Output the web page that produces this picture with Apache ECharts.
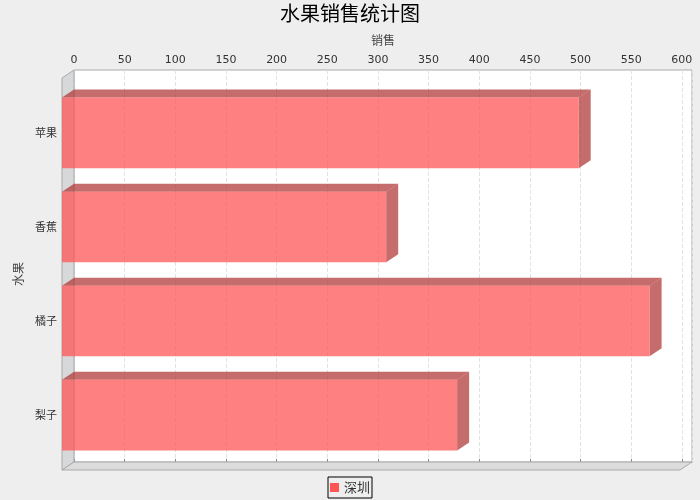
<!DOCTYPE html>
<html>
<head>
<meta charset="utf-8">
<script src="https://cdn.jsdelivr.net/npm/echarts@6/dist/echarts.min.js"></script>
<style>
  html, body { margin: 0; padding: 0; background: #eeeeee; }
  #main { width: 700px; height: 500px; }
</style>
</head>
<body>
<div id="main"></div>
<script>
// fruit sales, shenzhen
var categories = ['苹果', '香蕉', '橘子', '梨子'];
var sales = [510, 320, 580, 390];
var seriesName = '深圳';
var xMax = 610;

var DX = 12, DY = 8;   // 3d depth offset

var myChart = echarts.init(document.getElementById('main'));
var font = 'Noto Sans CJK SC';

var option = {
    backgroundColor: '#eeeeee',
    textStyle: { fontFamily: font },
    title: {
        text: '水果销售统计图',
        left: 'center',
        top: -2,
        textStyle: { fontSize: 20, fontWeight: 'normal', color: '#000', fontFamily: font }
    },
    legend: {
        data: [seriesName],
        bottom: 2,
        left: 'center',
        icon: 'rect',
        itemWidth: 9,
        itemHeight: 9,
        padding: [4, 2],
        borderColor: '#000',
        borderWidth: 1,
        borderRadius: 0,
        textStyle: { fontSize: 13, color: '#333', fontFamily: font }
    },
    grid: [
        // back wall
        { left: 74, top: 70, width: 618, height: 392, show: true, backgroundColor: '#fff', borderColor: '#aaa', borderWidth: 1 },
        // front plane
        { left: 62, top: 85.85, width: 618, height: 376.3 }
    ],
    xAxis: [
        {
            gridIndex: 0, type: 'value', position: 'top', min: 0, max: xMax, interval: 50,
            name: '销售', nameLocation: 'middle', nameGap: 24,
            nameTextStyle: { fontSize: 12, color: '#444' },
            axisLine: { show: true, lineStyle: { color: '#888' } },
            axisTick: { show: true, length: 3, lineStyle: { color: '#888' } },
            axisLabel: { fontSize: 11, color: '#333', margin: 4, showMaxLabel: false, fontFamily: 'DejaVu Sans' },
            splitLine: { show: true, lineStyle: { color: '#e2e2e2', type: 'dashed' } }
        },
        { gridIndex: 1, type: 'value', min: 0, max: xMax, show: false }
    ],
    yAxis: [
        { gridIndex: 0, type: 'value', min: 0, max: 1, show: false },
        {
            gridIndex: 1, type: 'category', data: categories, inverse: true,
            name: '水果', nameLocation: 'middle', nameGap: 38,
            nameTextStyle: { fontSize: 12, color: '#444' },
            axisLine: { show: false },
            axisTick: { show: false },
            axisLabel: { fontSize: 11, color: '#333', margin: 5 },
            splitLine: { show: false }
        }
    ],
    series: [
        {
            // left wall and floor
            type: 'custom',
            xAxisIndex: 0, yAxisIndex: 0,
            silent: true,
            z: 1,
            data: [[0, 0]],
            renderItem: function (params, api) {
                var c = params.coordSys;
                var l = c.x, t = c.y, r = c.x + c.width, b = c.y + c.height;
                return {
                    type: 'group',
                    children: [
                        { type: 'polygon', shape: { points: [[l - DX, t + DY], [l, t], [l, b], [l - DX, b + DY]] },
                          style: { fill: '#d6d8da', stroke: '#aaa', lineWidth: 1 } },
                        { type: 'polygon', shape: { points: [[l - DX, b + DY], [l, b], [r, b], [r - DX, b + DY]] },
                          style: { fill: '#dcdcdc', stroke: '#aaa', lineWidth: 1 } }
                    ]
                };
            }
        },
        {
            name: seriesName,
            type: 'custom',
            xAxisIndex: 1, yAxisIndex: 1,
            z: 3,
            itemStyle: { color: '#ff5555' },
            encode: { x: 0, y: 1 },
            data: sales.map(function (v, i) { return [v, i]; }),
            renderItem: function (params, api) {
                var p0 = api.coord([0, api.value(1)]);
                var p1 = api.coord([api.value(0), api.value(1)]);
                var h = api.size([0, 1])[1] * 0.75;
                var x0 = p0[0], x1 = p1[0];
                var y0 = p0[1] - h / 2, y1 = p0[1] + h / 2;
                var dark = 'rgba(178,59,59,0.75)';
                return {
                    type: 'group',
                    children: [
                        { type: 'polygon', shape: { points: [[x0, y0], [x0 + DX, y0 - DY], [x1 + DX, y0 - DY], [x1, y0]] },
                          style: { fill: dark } },
                        { type: 'polygon', shape: { points: [[x1, y0], [x1 + DX, y0 - DY], [x1 + DX, y1 - DY], [x1, y1]] },
                          style: { fill: dark } },
                        { type: 'rect', shape: { x: x0, y: y0, width: x1 - x0, height: y1 - y0 },
                          style: { fill: 'rgba(255,85,85,0.75)' } }
                    ]
                };
            }
        }
    ]
};

option && myChart.setOption(option);
</script>
</body>
</html>
